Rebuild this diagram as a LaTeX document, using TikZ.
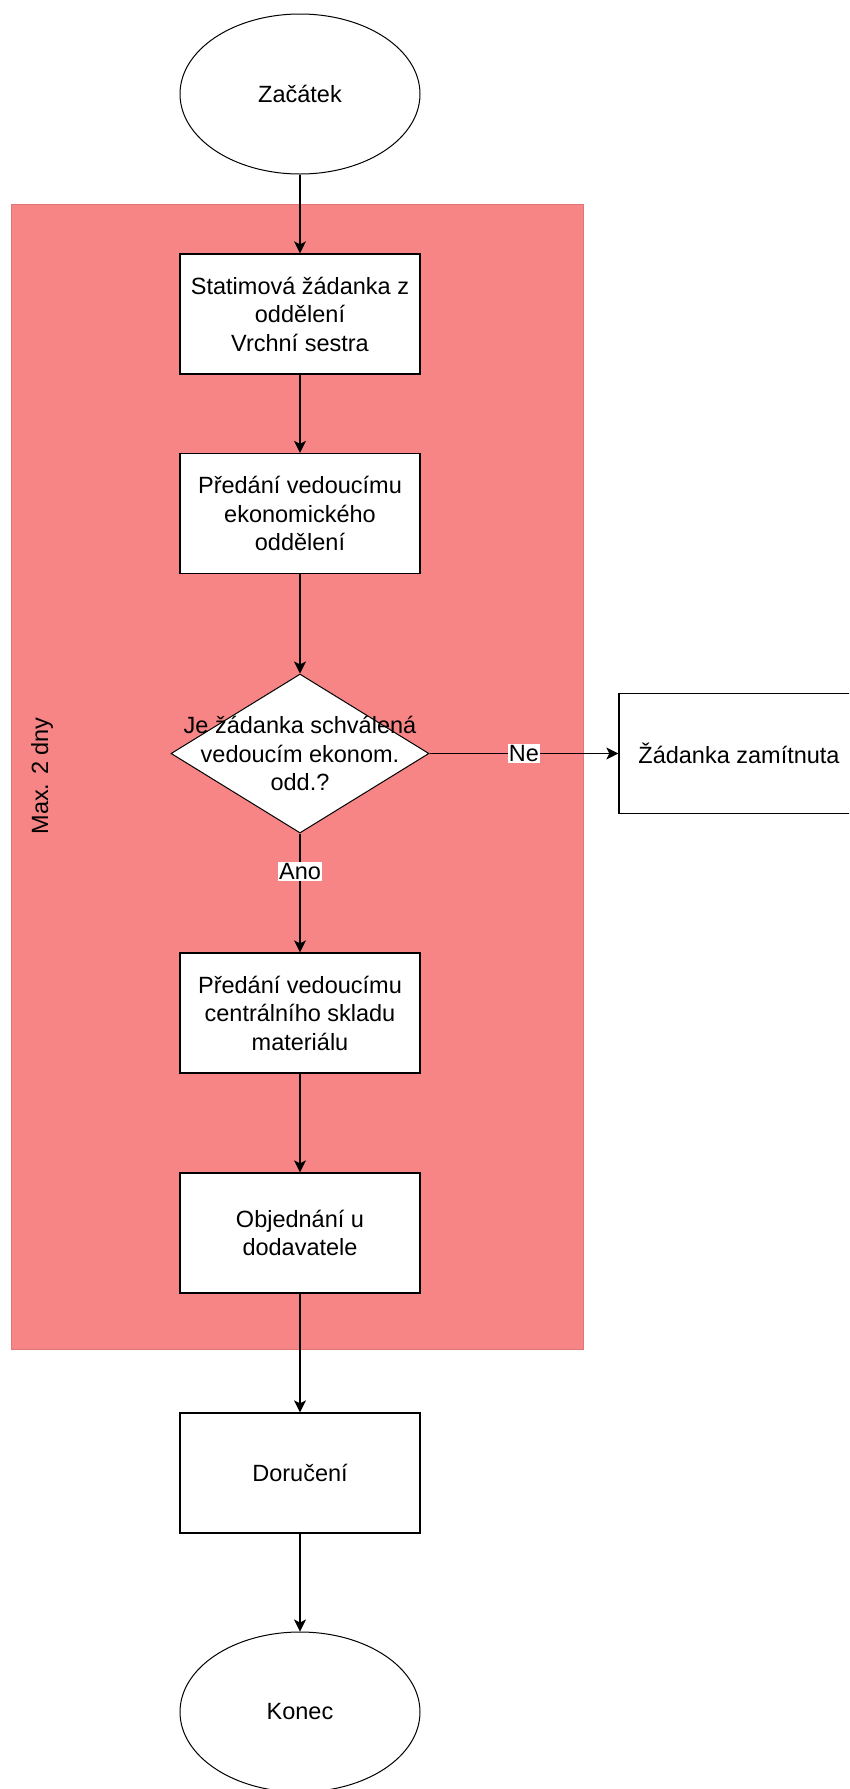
\documentclass[tikz,border=0pt]{standalone}
\usepackage{fontspec}
\setmainfont{Liberation Sans}
\usetikzlibrary{shapes.geometric,arrows.meta}
\definecolor{zonefill}{RGB}{247,133,133}
\definecolor{zoneedge}{RGB}{224,118,118}
\begin{document}
\begin{tikzpicture}[x=1pt,y=-1pt,
  every node/.style={font=\fontsize{23.5}{28.5}\selectfont, text=black},
  proc/.style={draw, line width=1.3pt, fill=white, minimum width=240pt,
    minimum height=120pt, inner sep=0pt, align=center},
  term/.style={draw, ellipse, line width=1pt, fill=white, minimum width=240pt,
    minimum height=160pt, inner sep=0pt},
  choice/.style={draw, diamond, line width=1pt, fill=white, minimum width=258pt,
    minimum height=159pt, inner sep=0pt},
  flow/.style={line width=1.3pt, -{Stealth[length=12pt,width=12pt,inset=3pt]}},
  tag/.style={fill=white, inner sep=1pt}
]
\useasboundingbox (0,0) rectangle (849,1789);
\clip (0,0) rectangle (849,1789);

% time-limited zone
\node[fill=zonefill, draw=zoneedge, line width=1pt, minimum width=572pt,
  minimum height=1145pt, inner sep=0pt, anchor=north west] (zone) at (11,204) {};
\node[rotate=90] (limit) at (42,776) {Max. 2 dny};

% flow steps
\node[term] (start) at (300,94) {Začátek};
\node[proc] (req) at (300,314) {Statimová žádanka z\\oddělení\\Vrchní sestra};
\node[proc] (hand1) at (300,513.5) {Předání vedoucímu\\ekonomického\\oddělení};
\node[choice] (dec) at (300,753.5) {};
\node[align=center] (dectext) at (dec.center) {Je žádanka schválená\\vedoucím ekonom.\\odd.?};
\node[proc] (rej) at (739,753.5) {Žádanka zamítnuta};
\node[proc] (hand2) at (300,1013) {Předání vedoucímu\\centrálního skladu\\materiálu};
\node[proc] (order) at (300,1233) {Objednání u\\dodavatele};
\node[proc] (deliv) at (300,1473) {Doručení};
\node[term] (finish) at (300,1712) {Konec};

% connectors
\draw[flow] (start) -- (req);
\draw[flow] (req) -- (hand1);
\draw[flow] (hand1) -- (dec);
\draw[flow] (dec.east) -- node[tag] (no) {Ne} (rej);
\draw[flow] (dec.south) -- node[tag, pos=0.32] (yes) {Ano} (hand2);
\draw[flow] (hand2) -- (order);
\draw[flow] (order) -- (deliv);
\draw[flow] (deliv) -- (finish);
\end{tikzpicture}
\end{document}
